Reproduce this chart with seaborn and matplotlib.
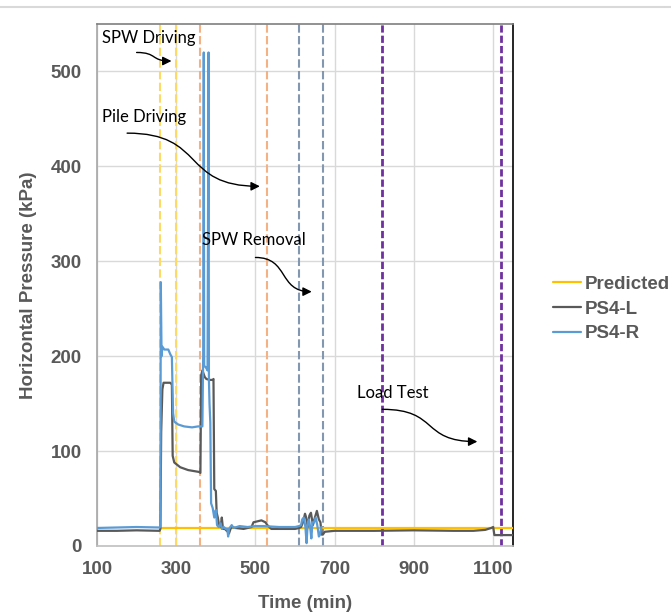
import numpy as np
import pandas as pd
import seaborn as sns
import matplotlib
matplotlib.use("Agg")
import matplotlib.pyplot as plt
from matplotlib.path import Path
from matplotlib.patches import FancyArrowPatch
from matplotlib.lines import Line2D

# ---------------- data ----------------
pred_t = [260, 1150]
pred_p = [18.5, 18.5]

psl_t = [100, 150, 200, 258, 260, 262, 265, 268, 285, 289, 291, 295, 310, 330, 358, 361,
         363, 366, 372, 376, 384, 392, 394, 396, 400, 402, 405, 408, 412, 415, 418, 420,
         425, 430, 433, 437, 440, 450, 470, 490, 495, 505, 515, 525, 530, 540, 600, 610,
         615, 620, 625, 628, 632, 636, 640, 645, 650, 655, 660, 664, 667, 670, 675, 700,
         800, 900, 1000, 1050, 1080, 1095, 1100, 1103, 1150]
psl_p = [16, 16, 16.5, 16, 18, 120, 165, 172, 172, 170, 95, 88, 83, 80, 78, 77,
         180, 185, 178, 176, 175, 175, 176, 60, 58, 35, 30, 22, 20, 30, 18, 19,
         17, 15, 13, 18, 20, 19, 18, 20, 25, 26, 27, 25, 22, 18, 18, 19,
         20, 25, 34, 30, 20, 32, 35, 22, 30, 37, 28, 25, 12, 12, 15, 16,
         16, 16.5, 16, 16, 17, 19, 20, 11.5, 11.5]

psr_t = [100, 150, 200, 258, 260, 261, 263, 265, 270, 280, 285, 289, 292, 295, 305, 320,
         340, 355, 366, 368, 369.5, 370.5, 375, 379, 381.5, 382.5, 384, 386, 388, 392,
         396, 400, 403, 407, 412, 415, 420, 425, 429, 431, 433, 440, 445, 460, 480, 500,
         520, 560, 600, 610, 615, 618, 622, 626, 629, 632, 635, 638, 641, 644, 648, 652,
         656, 660, 663, 666]
psr_p = [19, 19.5, 20, 19.5, 21, 278, 200, 210, 207, 207, 202, 199, 140, 131, 128, 126,
         125, 126, 126, 200, 520, 190, 188, 185, 520, 175, 150, 130, 45, 40,
         30, 38, 22, 20, 24, 18, 20, 18, 18, 10, 18, 22, 19, 21, 20, 21,
         21, 20, 20, 21, 22, 28, 30, 20, 3, 25, 28, 20, 8, 25, 25, 30,
         22, 10, 12, 20]

series_names = ["Predicted", "PS4-L", "PS4-R"]
series_colors = ["#FFC000", "#595959", "#5B9BD5"]

event_x = [260, 300, 360, 530, 610, 670, 820, 1120]
event_colors = ["#FFD966", "#FFD966", "#F4B183", "#F4B183",
                "#8497B0", "#8497B0", "#7030A0", "#7030A0"]

x_ticks = [100, 300, 500, 700, 900, 1100]
y_ticks = [0, 100, 200, 300, 400, 500]

notes = ["SPW Driving", "Pile Driving", "SPW Removal", "Load Test"]
note_xy = [(112, 535), (112, 452), (364, 322), (757, 161)]
arrow_from = [(200, 520), (176, 435), (500, 304), (820, 144)]
arrow_to = [(288, 511), (511, 379), (642, 268), (1060, 110)]

# ---------------- frame ----------------
df = pd.concat([
    pd.DataFrame({"Time": pred_t, "Pressure": pred_p, "Series": "Predicted"}),
    pd.DataFrame({"Time": psl_t, "Pressure": psl_p, "Series": "PS4-L"}),
    pd.DataFrame({"Time": psr_t, "Pressure": psr_p, "Series": "PS4-R"}),
], ignore_index=True)

sns.set_theme(style="white")
plt.rcParams["font.family"] = ["Liberation Sans", "DejaVu Sans"]

W, H = 671, 616
fig = plt.figure(figsize=(W / 100, H / 100), dpi=100)
ax = fig.add_axes([97 / W, 1 - 546 / H, (513 - 97) / W, (546 - 24) / H])

# grid
for yv in y_ticks[1:]:
    ax.axhline(yv, color="#D9D9D9", lw=1, zorder=0)
for xv in x_ticks:
    ax.axvline(xv, color="#D9D9D9", lw=1, zorder=0)

# event lines
for xv, c in zip(event_x, event_colors):
    if c == "#7030A0":
        ax.axvline(xv, color=c, lw=2.0, ls=(0, (2.6, 1.1)), zorder=1)
    else:
        ax.axvline(xv, color=c, lw=1.5, ls=(0, (4, 1.6)), zorder=1)

sns.lineplot(data=df, x="Time", y="Pressure", hue="Series",
             hue_order=series_names, palette=series_colors,
             sort=False, estimator=None, lw=1.6, ax=ax, legend=False, zorder=3)

ax.set_xlim(100, 1150)
ax.set_ylim(0, 550)
ax.set_xticks(x_ticks)
ax.set_yticks(y_ticks)
ax.tick_params(length=0, pad=11, labelsize=13.5, labelcolor="#595959")
for lab in ax.get_xticklabels() + ax.get_yticklabels():
    lab.set_fontweight("bold")

ax.set_xlabel("Time (min)", fontsize=13.5, fontweight="bold", color="#595959")
ax.set_ylabel("Horizontal Pressure (kPa)", fontsize=13.5, fontweight="bold", color="#595959")
ax.xaxis.set_label_coords(0.5, -0.094)
ax.yaxis.set_label_coords(-0.144, 0.5)

ax.spines["left"].set_color("#A6A6A6")
ax.spines["bottom"].set_color("#BFBFBF")
ax.spines["top"].set_color("#7F7F7F")
ax.spines["right"].set_color("black")
for s in ax.spines.values():
    s.set_linewidth(1.2)

# annotations
for txt, (tx, ty), p0, p3 in zip(notes, note_xy, arrow_from, arrow_to):
    ax.text(tx, ty, txt, fontsize=12, family=["Lato", "DejaVu Sans"], color="black",
            ha="left", va="center", zorder=5)
    dx = p3[0] - p0[0]
    verts = [p0, (p0[0] + 0.6 * dx, p0[1]), (p3[0] - 0.6 * dx, p3[1]), p3]
    codes = [Path.MOVETO, Path.CURVE4, Path.CURVE4, Path.CURVE4]
    arr = FancyArrowPatch(path=Path(verts, codes), arrowstyle="-|>", mutation_scale=13,
                          color="black", lw=1.0, transform=ax.transData, zorder=5)
    ax.add_patch(arr)

# legend
handles = [Line2D([0], [0], color=c, lw=1.6) for c in series_colors]
leg = ax.legend(handles, series_names, loc="center left",
                bbox_to_anchor=(553 / W, 1 - 309 / H), bbox_transform=fig.transFigure,
                frameon=False, borderpad=0, borderaxespad=0, handlelength=1.5,
                handletextpad=0.2, labelspacing=0.4,
                prop={"weight": "bold", "size": 13.5, "family": "Liberation Sans"})
for t in leg.get_texts():
    t.set_color("#595959")

# chart area top border
fig.add_artist(Line2D([0, 1], [1 - 7 / H, 1 - 7 / H], transform=fig.transFigure,
                      color="#D9D9D9", lw=1.5))

fig.savefig("out.png", dpi=100)
